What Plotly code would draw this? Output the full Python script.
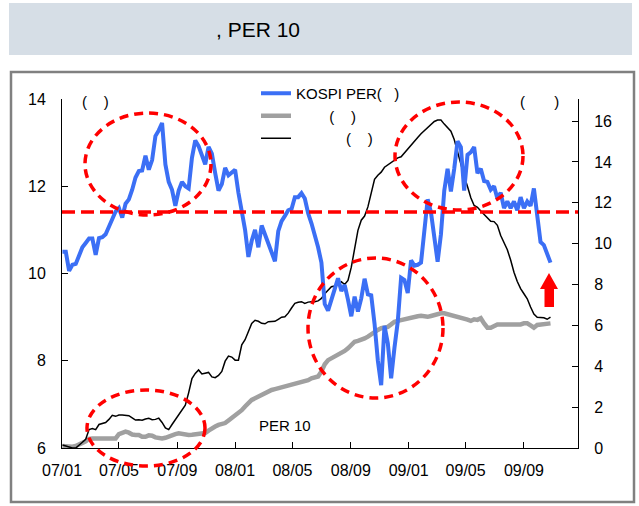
import pandas as pd
import plotly.graph_objects as go

# ---------------- data (weekly) ----------------
START_DATE = "2007-01-02"

kospi_per = [
    10.50, 10.50, 10.06, 10.20, 10.22, 10.40, 10.60, 10.70, 10.80, 10.80,
    10.43, 10.81, 10.83, 10.90, 11.08, 11.23, 11.42, 11.50, 11.28, 11.60,
    11.70, 11.92, 12.20, 12.35, 12.36, 12.70, 12.38, 12.60, 13.15, 13.28,
    13.45, 12.50, 12.10, 11.92, 11.55, 11.90, 12.10, 12.00, 11.95, 12.65,
    13.05, 12.92, 12.70, 12.50, 12.90, 12.75, 12.30, 11.90, 12.05, 12.42,
    12.25, 12.33, 12.38, 11.85, 11.45, 11.00, 10.38, 10.75, 11.00, 10.60,
    11.10, 10.88, 10.72, 10.50, 10.28, 10.97, 11.20, 11.32, 11.45, 11.48,
    11.75, 11.75, 11.84, 11.72, 11.38, 11.15, 10.90, 10.60, 10.25, 9.30,
    9.15, 9.40, 9.60, 9.89, 9.60, 9.74, 9.40, 9.02, 9.47, 9.13,
    9.43, 9.88, 9.52, 9.50, 8.85, 8.00, 7.44, 8.80, 8.40, 7.60,
    8.30, 8.90, 9.90, 9.85, 9.55, 10.30, 10.18, 10.20, 10.25, 10.90,
    11.70, 11.40, 10.90, 10.27, 10.90, 11.90, 12.40, 11.88, 12.40, 13.03,
    12.90, 11.90, 12.72, 12.78, 12.90, 12.30, 12.40, 12.12, 12.10, 11.92,
    12.00, 11.72, 11.85, 11.50, 11.65, 11.50, 11.65, 11.45, 11.75, 11.50,
    11.65, 11.55, 11.95, 11.40, 10.72, 10.65, 10.42, 10.25,
]

black_series = [
    0.15, 0.10, 0.05, 0.00, 0.00, 0.12, 0.28, 0.43, 0.90, 0.95,
    0.90, 1.15, 1.21, 1.25, 1.40, 1.60, 1.55, 1.61, 1.62, 1.60,
    1.58, 1.48, 1.37, 1.38, 1.36, 1.42, 1.45, 1.38, 1.40, 1.46,
    1.25, 0.98, 0.90, 1.15, 1.40, 1.65, 1.88, 2.10, 2.70, 3.40,
    3.65, 3.82, 3.62, 3.65, 3.70, 3.48, 3.44, 3.55, 3.75, 4.25,
    4.50, 4.45, 4.30, 4.30, 5.05, 5.30, 5.70, 6.10, 6.25, 6.20,
    6.10, 6.08, 6.18, 6.18, 6.20, 6.30, 6.40, 6.42, 6.60, 6.85,
    7.08, 7.13, 7.16, 7.08, 7.14, 7.16, 7.16, 7.20, 7.32, 7.55,
    7.72, 7.89, 7.93, 8.02, 8.14, 8.00, 8.20, 8.85, 9.80, 10.65,
    11.15, 11.35, 11.80, 12.50, 13.15, 13.35, 13.50, 13.74, 13.86, 13.98,
    14.10, 14.20, 14.25, 14.45, 14.64, 14.80, 15.00, 15.20, 15.38, 15.53,
    15.70, 15.86, 15.98, 16.05, 16.05, 15.85, 15.70, 15.50, 15.10, 14.50,
    13.85, 13.30, 12.80, 12.25, 11.87, 11.78, 11.60, 11.45, 11.28, 11.10,
    11.08, 10.90, 10.40, 10.05, 9.70, 9.20, 8.60, 8.15, 7.80, 7.55,
    7.30, 6.90, 6.55, 6.40, 6.37, 6.37, 6.30, 6.40,
]

gray_series = [
    0.10, 0.08, 0.06, 0.06, 0.10, 0.20, 0.25, 0.33, 0.45, 0.47,
    0.47, 0.47, 0.47, 0.47, 0.47, 0.47, 0.47, 0.68, 0.75, 0.80,
    0.75, 0.66, 0.64, 0.64, 0.55, 0.55, 0.62, 0.60, 0.52, 0.48,
    0.47, 0.50, 0.58, 0.62, 0.68, 0.72, 0.68, 0.64, 0.64, 0.65,
    0.66, 0.67, 0.70, 0.73, 0.85, 0.97, 1.05, 1.13, 1.17, 1.22,
    1.35, 1.46, 1.58, 1.72, 1.85, 2.03, 2.20, 2.35, 2.43, 2.52,
    2.60, 2.68, 2.76, 2.84, 2.88, 2.92, 2.96, 3.00, 3.04, 3.08,
    3.12, 3.17, 3.20, 3.24, 3.32, 3.41, 3.45, 3.50, 3.75, 4.10,
    4.30, 4.38, 4.47, 4.55, 4.63, 4.75, 4.88, 5.05, 5.20, 5.24,
    5.28, 5.36, 5.45, 5.57, 5.69, 5.78, 5.86, 5.90, 5.93, 6.05,
    6.18, 6.22, 6.26, 6.32, 6.37, 6.40, 6.42, 6.45, 6.47, 6.45,
    6.42, 6.46, 6.51, 6.55, 6.59, 6.59, 6.55, 6.51, 6.48, 6.43,
    6.40, 6.35, 6.28, 6.22, 6.30, 6.27, 6.35, 6.10, 5.89, 5.89,
    5.95, 6.05, 6.05, 6.05, 6.05, 6.05, 6.02, 6.00, 6.05, 6.10,
    6.10, 6.00, 5.89, 6.02, 6.05, 6.08, 6.10, 6.10,
]

per_average = 11.41          # red dashed reference level (left axis)
left_ticks = [6, 8, 10, 12, 14]
right_ticks = [0, 2, 4, 6, 8, 10, 12, 14, 16]
x_tick_dates = ["2007-01-01", "2007-05-01", "2007-09-01", "2008-01-01", "2008-05-01",
                "2008-09-01", "2009-01-01", "2009-05-01", "2009-09-01"]
x_tick_labels = ["07/01", "07/05", "07/09", "08/01", "08/05", "08/09", "09/01", "09/05", "09/09"]

legend_names = ["KOSPI PER(\u00a0\u00a0\u00a0)",
                "\u00a0" * 8 + "(\u00a0\u00a0\u00a0\u00a0)",
                "\u00a0" * 12 + "(\u00a0\u00a0\u00a0\u00a0)"]

dates = pd.date_range(START_DATE, periods=len(kospi_per), freq="7D")

# ---------------- geometry helpers ----------------
W, H = 639, 506
ML, MR, MT, MB = 62, 61, 99, 58
PW, PH = W - ML - MR, H - MT - MB


def pxx(x):
    return (x - ML) / PW


def pxy(y):
    return (H - MB - y) / PH


FONT = "Liberation Sans, Arial, sans-serif"
RED = "#ff0000"

fig = go.Figure()
fig.add_trace(go.Scatter(x=dates, y=gray_series, mode="lines", name=legend_names[1],
                         line=dict(color="#a0a0a0", width=4.5), yaxis="y", legendrank=2))
fig.add_trace(go.Scatter(x=dates, y=black_series, mode="lines", name=legend_names[2],
                         line=dict(color="#000000", width=1.5), yaxis="y", legendrank=3))
fig.add_trace(go.Scatter(x=dates, y=kospi_per, mode="lines", name=legend_names[0],
                         line=dict(color="#3b6ff5", width=4), yaxis="y2", legendrank=1))

shapes = []
# title bar
shapes.append(dict(type="rect", xref="paper", yref="paper", x0=pxx(9), x1=pxx(632),
                   y0=pxy(55), y1=pxy(3), fillcolor="#d6dee6", line=dict(width=0), layer="below"))
# outer frame
shapes.append(dict(type="rect", xref="paper", yref="paper", x0=pxx(11), x1=pxx(634),
                   y0=pxy(502), y1=pxy(72), line=dict(color="#808080", width=2.5), layer="below"))
# average line
shapes.append(dict(type="line", xref="paper", yref="y2", x0=0, x1=1, y0=per_average, y1=per_average,
                   line=dict(color=RED, width=3.5, dash="13px,6px")))
# ellipses
for (x0, y0, x1, y1) in [(85, 113, 211, 215), (395, 102, 523, 210), (308, 258, 443, 398), (87, 390, 205, 466)]:
    shapes.append(dict(type="circle", xref="paper", yref="paper", x0=pxx(x0), x1=pxx(x1),
                       y0=pxy(y1), y1=pxy(y0), line=dict(color=RED, width=3.5, dash="9px,6px")))
# red arrow
arrow_pts = [(549, 273), (558, 289), (554, 289), (554, 307), (544.5, 307), (544.5, 289), (540, 289)]
path = "M " + " L ".join(f"{pxx(x):.5f},{pxy(y):.5f}" for x, y in arrow_pts) + " Z"
shapes.append(dict(type="path", xref="paper", yref="paper", path=path, fillcolor=RED, line=dict(width=0)))

annotations = [
    dict(text=", PER 10", x=pxx(214), y=pxy(30), xref="paper", yref="paper", xanchor="left",
         yanchor="middle", showarrow=False, font=dict(size=21, color="#000000", family=FONT)),
    dict(text="(\u00a0\u00a0\u00a0\u00a0)", x=pxx(80), y=pxy(101), xref="paper", yref="paper",
         xanchor="left", yanchor="middle", showarrow=False, font=dict(size=15, color="#000", family=FONT)),
    dict(text="(" + "\u00a0" * 7 + ")", x=pxx(518), y=pxy(101), xref="paper", yref="paper",
         xanchor="left", yanchor="middle", showarrow=False, font=dict(size=15, color="#000", family=FONT)),
    dict(text="PER 10", x=pxx(257), y=pxy(425), xref="paper", yref="paper",
         xanchor="left", yanchor="middle", showarrow=False, font=dict(size=15, color="#000", family=FONT)),
]

axis_common = dict(showgrid=False, zeroline=False, showline=True, linecolor="#000", linewidth=1,
                   ticks="inside", ticklen=6, tickcolor="#000",
                   tickfont=dict(size=16, color="#000", family=FONT))

fig.update_layout(
    width=W, height=H, margin=dict(l=ML, r=MR, t=MT, b=MB, pad=0),
    paper_bgcolor="white", plot_bgcolor="white",
    font=dict(family=FONT, color="#000"),
    xaxis=dict(type="date", range=["2007-01-01", "2009-12-24"], tickvals=x_tick_dates,
               ticktext=x_tick_labels, ticklabelstandoff=8, **axis_common),
    yaxis=dict(side="right", range=[0, 17.08], tickvals=right_ticks, ticklabelstandoff=12, **axis_common),
    yaxis2=dict(side="left", overlaying="y", range=[6, 14], tickvals=left_ticks,
                ticklabelstandoff=12, **axis_common),
    showlegend=True,
    legend=dict(x=pxx(256), y=pxy(77), xanchor="left", yanchor="top", bgcolor="rgba(0,0,0,0)",
                font=dict(size=15, color="#000", family=FONT), itemwidth=30, tracegroupgap=0),
    shapes=shapes, annotations=annotations,
)

fig.write_html("out.html", config={"displayModeBar": False},
               post_script="document.body.style.margin='0';document.body.style.overflow='hidden';")
